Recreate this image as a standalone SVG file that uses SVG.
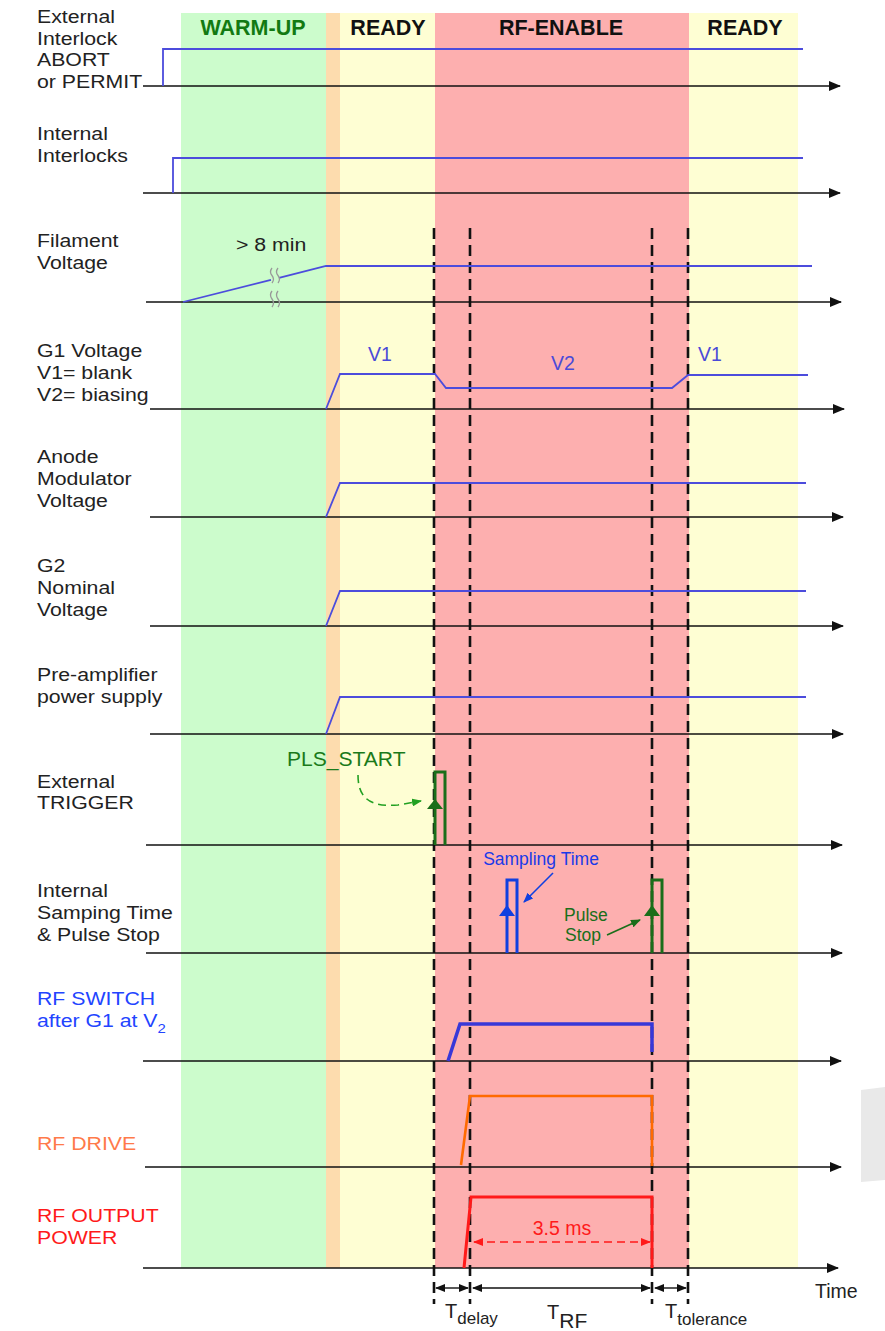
<svg xmlns="http://www.w3.org/2000/svg" width="885" height="1331" viewBox="0 0 885 1331">
<style>
.lbl{font-family:"Liberation Sans",Arial,sans-serif;font-size:18.5px;fill:#222}
.hdr{font-family:"Liberation Sans",Arial,sans-serif;font-size:21.5px;font-weight:bold;fill:#111;text-anchor:middle}
.txt{font-family:"Liberation Sans",Arial,sans-serif;font-size:18.5px}
.axis{stroke:#111;stroke-width:1.6;fill:none}
.sig{stroke:#4c4cdc;stroke-width:1.8;fill:none}
.dash{stroke:#111;stroke-width:2.6;stroke-dasharray:11 6;fill:none}
</style>
<defs>
<marker id="ah" markerUnits="userSpaceOnUse" markerWidth="12" markerHeight="10" refX="11" refY="5" orient="auto"><path d="M0,0 L12,5 L0,10 z" fill="#111"/></marker>
<marker id="ahs" markerUnits="userSpaceOnUse" markerWidth="10" markerHeight="8" refX="9" refY="4" orient="auto-start-reverse"><path d="M0,0 L10,4 L0,8 z" fill="#111"/></marker>
<marker id="ahb" markerUnits="userSpaceOnUse" markerWidth="10" markerHeight="8" refX="9" refY="4" orient="auto"><path d="M0,0 L10,4 L0,8 z" fill="#1040e0"/></marker>
<marker id="ahg" markerUnits="userSpaceOnUse" markerWidth="10" markerHeight="8" refX="9" refY="4" orient="auto"><path d="M0,0 L10,4 L0,8 z" fill="#1a6e1a"/></marker>
<marker id="ahlg" markerUnits="userSpaceOnUse" markerWidth="10" markerHeight="8" refX="9" refY="4" orient="auto"><path d="M0,0 L10,4 L0,8 z" fill="#22a022"/></marker>
<marker id="ahr" markerUnits="userSpaceOnUse" markerWidth="10" markerHeight="8" refX="9" refY="4" orient="auto-start-reverse"><path d="M0,0 L10,4 L0,8 z" fill="#ff1a1a"/></marker>
</defs>
<rect width="885" height="1331" fill="#ffffff"/>
<g id="phases">
<rect x="181" y="13" width="145" height="1255" fill="#ccfccc"/>
<rect x="326" y="13" width="14" height="1255" fill="#fddcae"/>
<rect x="340" y="13" width="95" height="1255" fill="#fefed3"/>
<rect x="435" y="13" width="254" height="1255" fill="#fdafaf"/>
<rect x="689" y="13" width="109" height="1255" fill="#fefed3"/>
<text class="hdr" x="253" y="35" style="fill:#127a12">WARM-UP</text>
<text class="hdr" x="388" y="35">READY</text>
<text class="hdr" x="561" y="35">RF-ENABLE</text>
<text class="hdr" x="745" y="35">READY</text>
</g>
<polygon points="861,1090 885,1087 885,1180 861,1182" fill="#e9e9e9"/>
<g id="guides">
<line class="dash" x1="434" y1="228" x2="434" y2="1304"/>
<line class="dash" x1="470" y1="228" x2="470" y2="1304"/>
<line class="dash" x1="652" y1="228" x2="652" y2="1304"/>
<line class="dash" x1="688" y1="228" x2="688" y2="1304"/>
</g>
<g id="connectors">
<line class="axis" x1="143" y1="86" x2="840" y2="86" marker-end="url(#ah)"/>
<line class="axis" x1="143" y1="193" x2="840" y2="193" marker-end="url(#ah)"/>
<line class="axis" x1="146" y1="302" x2="841" y2="302" marker-end="url(#ah)"/>
<line class="axis" x1="150" y1="409" x2="844" y2="409" marker-end="url(#ah)"/>
<line class="axis" x1="150" y1="517" x2="843" y2="517" marker-end="url(#ah)"/>
<line class="axis" x1="150" y1="626" x2="843" y2="626" marker-end="url(#ah)"/>
<line class="axis" x1="150" y1="734" x2="843" y2="734" marker-end="url(#ah)"/>
<line class="axis" x1="146" y1="845" x2="842" y2="845" marker-end="url(#ah)"/>
<line class="axis" x1="146" y1="953" x2="842" y2="953" marker-end="url(#ah)"/>
<line class="axis" x1="143" y1="1061" x2="841" y2="1061" marker-end="url(#ah)"/>
<line class="axis" x1="145" y1="1167" x2="841" y2="1167" marker-end="url(#ah)"/>
<line class="axis" x1="143" y1="1268" x2="838" y2="1268" marker-end="url(#ah)"/>
<path d="M358,775 C358,800 372,807 398,805 L421,801" fill="none" stroke="#22a022" stroke-width="1.6" stroke-dasharray="8 5" marker-end="url(#ahlg)"/>
<line x1="553" y1="873" x2="524" y2="902" stroke="#1040e0" stroke-width="1.6" marker-end="url(#ahb)"/>
<line x1="607" y1="935" x2="640" y2="920" stroke="#1a6e1a" stroke-width="1.6" marker-end="url(#ahg)"/>
<line x1="474" y1="1242" x2="650" y2="1242" stroke="#ff1a1a" stroke-width="1.6" stroke-dasharray="8 5" marker-start="url(#ahr)" marker-end="url(#ahr)"/>
<line x1="436" y1="1288" x2="468" y2="1288" stroke="#111" stroke-width="1.4" marker-start="url(#ahs)" marker-end="url(#ahs)"/>
<line x1="473" y1="1288" x2="650" y2="1288" stroke="#111" stroke-width="1.4" marker-start="url(#ahs)" marker-end="url(#ahs)"/>
<line x1="655" y1="1288" x2="686" y2="1288" stroke="#111" stroke-width="1.4" marker-start="url(#ahs)" marker-end="url(#ahs)"/>
</g>
<g id="ext-interlock">
<g class="lbl" transform="translate(37,0) scale(1.15,1)"><text y="23">External</text><text y="45">Interlock</text><text y="66">ABORT</text><text y="88">or PERMIT</text></g>
<polyline class="sig" points="163,86 163,49 803,49"/>
</g>
<g id="int-interlocks">
<g class="lbl" transform="translate(37,0) scale(1.15,1)"><text y="140">Internal</text><text y="162">Interlocks</text></g>
<polyline class="sig" points="173,193 173,158 803,158"/>
</g>
<g id="filament">
<g class="lbl" transform="translate(37,0) scale(1.15,1)"><text y="247">Filament</text><text y="269">Voltage</text></g>
<text class="txt" transform="translate(236,251) scale(1.15,1)" fill="#222">&gt; 8 min</text>
<polyline class="sig" points="183,302 271,279.8"/>
<polyline class="sig" points="279,277.8 326,266 812,266"/>
<path d="M272,268 q-3,4 0,7.5 q3,4 0,7.5 M278,268 q-3,4 0,7.5 q3,4 0,7.5 M272,291 q-3,4 0,8 q3,4 0,8 M278,291 q-3,4 0,8 q3,4 0,8" fill="none" stroke="#999" stroke-width="1.3"/>
</g>
<g id="g1">
<g class="lbl" transform="translate(37,0) scale(1.15,1)"><text y="357">G1 Voltage</text><text y="379">V1= blank</text><text y="401">V2= biasing</text></g>
<polyline class="sig" points="326,409 340,374 435,374 446,388 672,388 688,375 808,375"/>
<text class="txt" x="368" y="361" fill="#4a4ad8" style="font-size:19.5px">V1</text>
<text class="txt" x="551" y="370" fill="#4a4ad8" style="font-size:19.5px">V2</text>
<text class="txt" x="698" y="361" fill="#4a4ad8" style="font-size:19.5px">V1</text>
</g>
<g id="anode">
<g class="lbl" transform="translate(37,0) scale(1.15,1)"><text y="463">Anode</text><text y="485">Modulator</text><text y="507">Voltage</text></g>
<polyline class="sig" points="326,517 340,483 806,483"/>
</g>
<g id="g2">
<g class="lbl" transform="translate(37,0) scale(1.15,1)"><text y="572">G2</text><text y="594">Nominal</text><text y="616">Voltage</text></g>
<polyline class="sig" points="326,626 340,591 806,591"/>
</g>
<g id="preamp">
<g class="lbl" transform="translate(37,0) scale(1.15,1)"><text y="681">Pre-amplifier</text><text y="703">power supply</text></g>
<polyline class="sig" points="326,734 340,697 806,697"/>
</g>
<g id="ext-trigger">
<g class="lbl" transform="translate(37,0) scale(1.15,1)"><text y="788">External</text><text y="809">TRIGGER</text></g>
<text class="txt" transform="translate(287,766) scale(1.08,1)" fill="#1a7a1a" style="font-size:19.5px">PLS_START</text>
<polyline points="435,845 435,772 445,772 445,845" fill="none" stroke="#1a6e1a" stroke-width="3"/>
<polygon points="435,799 443,809 427,809" fill="#1a6e1a"/>
</g>
<g id="int-sampling">
<g class="lbl" transform="translate(37,0) scale(1.15,1)"><text y="897">Internal</text><text y="919">Samping Time</text><text y="941">&amp; Pulse Stop</text></g>
<polyline points="507,953 507,880 517,880 517,953" fill="none" stroke="#1040e0" stroke-width="3"/>
<polygon points="507,905 515,916 499,916" fill="#1040e0"/>
<text class="txt" x="541" y="865" fill="#1a3ae8" text-anchor="middle" style="font-size:17.5px">Sampling Time</text>
<polyline points="652,953 652,880 662,880 662,953" fill="none" stroke="#1a6e1a" stroke-width="3"/>
<polygon points="652,905 660,916 644,916" fill="#1a6e1a"/>
<text class="txt" x="564" y="921" fill="#1a6e1a" style="font-size:17.5px">Pulse</text>
<text class="txt" x="565" y="941" fill="#1a6e1a" style="font-size:17.5px">Stop</text>
</g>
<g id="rf-switch">
<g class="lbl" transform="translate(37,0) scale(1.15,1)" style="fill:#2244ff"><text y="1005">RF SWITCH</text><text y="1027">after G1 at V<tspan dy="6" style="font-size:13px">2</tspan></text></g>
<polyline points="448,1061 460,1024 652,1024 652,1052" fill="none" stroke="#3838d8" stroke-width="3.5"/>
</g>
<g id="rf-drive">
<g class="lbl" transform="translate(37,0) scale(1.15,1)" style="fill:#ff7a4a"><text y="1150">RF DRIVE</text></g>
<polyline points="461,1165 470,1096 652,1096 652,1166" fill="none" stroke="#ff6a00" stroke-width="2.6"/>
</g>
<g id="rf-output">
<g class="lbl" transform="translate(37,0) scale(1.15,1)" style="fill:#ff1a1a"><text y="1222">RF OUTPUT</text><text y="1244">POWER</text></g>
<polyline points="464,1268 471,1197 652,1197 652,1268" fill="none" stroke="#ff1a1a" stroke-width="3"/>
<text class="txt" x="562" y="1235" fill="#ff1a1a" text-anchor="middle" style="font-size:19.5px">3.5 ms</text>
</g>
<g id="time-labels">
<text class="txt" x="815" y="1298" fill="#222" style="font-size:19.5px">Time</text>
<text class="txt" x="445" y="1318" fill="#222" style="font-size:20px">T<tspan dy="6" style="font-size:17px">delay</tspan></text>
<text class="txt" x="547" y="1319" fill="#222" style="font-size:20px">T<tspan dy="9" style="font-size:21px">RF</tspan></text>
<text class="txt" x="665" y="1318" fill="#222" style="font-size:20px">T<tspan dy="7" style="font-size:17px">tolerance</tspan></text>
</g>
</svg>
